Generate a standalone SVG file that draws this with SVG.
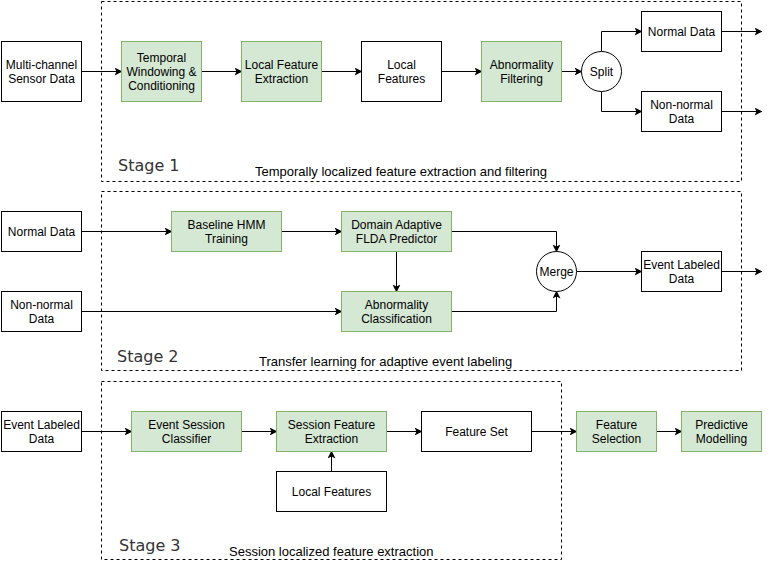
<svg xmlns="http://www.w3.org/2000/svg" width="771" height="562" viewBox="0 0 771 562">
<style>
.box{fill:#ffffff;stroke:#000000;stroke-width:1}
.g{fill:#d5e8d4;stroke:#82b366;stroke-width:1}
.t{font-family:"Liberation Sans",Arial,sans-serif;font-size:12px;fill:#000;text-anchor:middle}
.stage{fill:none;stroke:#000;stroke-width:1;stroke-dasharray:3 3}
.sl{font-family:"DejaVu Sans",Verdana,sans-serif;font-size:16px;fill:#333}
.cap{font-family:"Liberation Sans",Arial,sans-serif;font-size:13px;fill:#000}
.c{fill:none;stroke:#000;stroke-width:1;marker-end:url(#a)}
</style>
<defs>
<marker id="a" markerWidth="10" markerHeight="10" refX="7" refY="4" orient="auto" markerUnits="userSpaceOnUse">
<path d="M0,0 L8,4 L0,8 L2,4 Z" fill="#000"/>
</marker>
</defs>
<rect width="771" height="562" fill="#fff"/>
<g id="stage1">
<rect class="stage" x="101.5" y="1.5" width="640" height="180"/>
<text class="sl" x="118" y="170.5">Stage 1</text>
<text class="cap" x="255" y="176">Temporally localized feature extraction and filtering</text>
</g>
<g id="stage2">
<rect class="stage" x="101.5" y="191.5" width="640" height="179"/>
<text class="sl" x="117" y="361.5">Stage 2</text>
<text class="cap" x="259" y="365.5">Transfer learning for adaptive event labeling</text>
</g>
<g id="stage3">
<rect class="stage" x="101.5" y="381.5" width="460" height="178"/>
<text class="sl" x="119" y="550.5">Stage 3</text>
<text class="cap" x="229" y="555.5">Session localized feature extraction</text>
</g>
<g id="connectors">
<path class="c" d="M81.5,71.5 L121.5,71.5"/>
<path class="c" d="M201.5,71.5 L241.5,71.5"/>
<path class="c" d="M321.5,71.5 L361.5,71.5"/>
<path class="c" d="M441.5,71.5 L481.5,71.5"/>
<path class="c" d="M561.5,71.5 L581.5,71.5"/>
<path class="c" d="M601.5,51.5 L601.5,31.5 L641.5,31.5"/>
<path class="c" d="M601.5,91.5 L601.5,111.5 L641.5,111.5"/>
<path class="c" d="M721.5,31.5 L761.5,31.5"/>
<path class="c" d="M721.5,111.5 L761.5,111.5"/>
<path class="c" d="M81.5,231.5 L171.5,231.5"/>
<path class="c" d="M281.5,231.5 L341.5,231.5"/>
<path class="c" d="M81.5,311.5 L341.5,311.5"/>
<path class="c" d="M396.5,251.5 L396.5,291.5"/>
<path class="c" d="M451.5,231.5 L556.5,231.5 L556.5,251.5"/>
<path class="c" d="M451.5,311.5 L556.5,311.5 L556.5,291.5"/>
<path class="c" d="M576.5,271.5 L641.5,271.5"/>
<path class="c" d="M721.5,271.5 L761.5,271.5"/>
<path class="c" d="M81.5,431.5 L131.5,431.5"/>
<path class="c" d="M241.5,431.5 L276.5,431.5"/>
<path class="c" d="M386.5,431.5 L421.5,431.5"/>
<path class="c" d="M531.5,431.5 L576.5,431.5"/>
<path class="c" d="M656.5,431.5 L681.5,431.5"/>
<path class="c" d="M331.5,471.5 L331.5,451.5"/>
</g>
<g id="n1"><rect class="box" x="1.5" y="41.5" width="80" height="60"/><text class="t" x="41.5" y="69">Multi-channel</text><text class="t" x="41.5" y="83">Sensor Data</text></g>
<g id="n2"><rect class="g" x="121.5" y="41.5" width="80" height="60"/><text class="t" x="161.5" y="62">Temporal</text><text class="t" x="161.5" y="76">Windowing &amp;</text><text class="t" x="161.5" y="90">Conditioning</text></g>
<g id="n3"><rect class="g" x="241.5" y="41.5" width="80" height="60"/><text class="t" x="281.5" y="69">Local Feature</text><text class="t" x="281.5" y="83">Extraction</text></g>
<g id="n4"><rect class="box" x="361.5" y="41.5" width="80" height="60"/><text class="t" x="401.5" y="69">Local</text><text class="t" x="401.5" y="83">Features</text></g>
<g id="n5"><rect class="g" x="481.5" y="41.5" width="80" height="60"/><text class="t" x="521.5" y="69">Abnormality</text><text class="t" x="521.5" y="83">Filtering</text></g>
<g id="n6"><circle class="box" cx="601.5" cy="71.5" r="20"/><text class="t" x="601.5" y="76">Split</text></g>
<g id="n7"><rect class="box" x="641.5" y="11.5" width="80" height="40"/><text class="t" x="681.5" y="36">Normal Data</text></g>
<g id="n8"><rect class="box" x="641.5" y="91.5" width="80" height="40"/><text class="t" x="681.5" y="109">Non-normal</text><text class="t" x="681.5" y="123">Data</text></g>
<g id="n9"><rect class="box" x="1.5" y="211.5" width="80" height="40"/><text class="t" x="41.5" y="236">Normal Data</text></g>
<g id="n10"><rect class="box" x="1.5" y="291.5" width="80" height="40"/><text class="t" x="41.5" y="309">Non-normal</text><text class="t" x="41.5" y="323">Data</text></g>
<g id="n11"><rect class="g" x="171.5" y="211.5" width="110" height="40"/><text class="t" x="226.5" y="229">Baseline HMM</text><text class="t" x="226.5" y="243">Training</text></g>
<g id="n12"><rect class="g" x="341.5" y="211.5" width="110" height="40"/><text class="t" x="396.5" y="229">Domain Adaptive</text><text class="t" x="396.5" y="243">FLDA Predictor</text></g>
<g id="n13"><rect class="g" x="341.5" y="291.5" width="110" height="40"/><text class="t" x="396.5" y="309">Abnormality</text><text class="t" x="396.5" y="323">Classification</text></g>
<g id="n14"><circle class="box" cx="556.5" cy="271.5" r="20"/><text class="t" x="556.5" y="276">Merge</text></g>
<g id="n15"><rect class="box" x="641.5" y="251.5" width="80" height="40"/><text class="t" x="681.5" y="269">Event Labeled</text><text class="t" x="681.5" y="283">Data</text></g>
<g id="n16"><rect class="box" x="1.5" y="411.5" width="80" height="40"/><text class="t" x="41.5" y="429">Event Labeled</text><text class="t" x="41.5" y="443">Data</text></g>
<g id="n17"><rect class="g" x="131.5" y="411.5" width="110" height="40"/><text class="t" x="186.5" y="429">Event Session</text><text class="t" x="186.5" y="443">Classifier</text></g>
<g id="n18"><rect class="g" x="276.5" y="411.5" width="110" height="40"/><text class="t" x="331.5" y="429">Session Feature</text><text class="t" x="331.5" y="443">Extraction</text></g>
<g id="n19"><rect class="box" x="421.5" y="411.5" width="110" height="40"/><text class="t" x="476.5" y="436">Feature Set</text></g>
<g id="n20"><rect class="box" x="276.5" y="471.5" width="110" height="40"/><text class="t" x="331.5" y="496">Local Features</text></g>
<g id="n21"><rect class="g" x="576.5" y="411.5" width="80" height="40"/><text class="t" x="616.5" y="429">Feature</text><text class="t" x="616.5" y="443">Selection</text></g>
<g id="n22"><rect class="g" x="681.5" y="411.5" width="80" height="40"/><text class="t" x="721.5" y="429">Predictive</text><text class="t" x="721.5" y="443">Modelling</text></g>
</svg>
